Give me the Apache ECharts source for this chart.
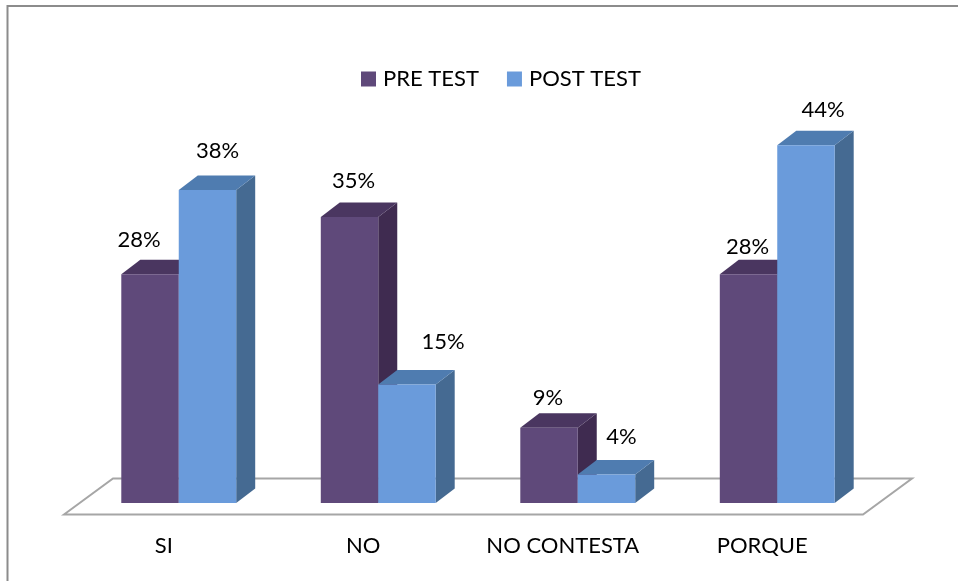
<!DOCTYPE html>
<html>
<head>
<meta charset="utf-8">
<title>Pre test / post test</title>
<style>
  html, body { margin: 0; padding: 0; background: #fff; }
  #chart { width: 958px; height: 581px; }
</style>
<script src="https://cdn.jsdelivr.net/npm/echarts@6/dist/echarts.min.js"></script>
</head>
<body>
<div id="chart"></div>
<script>
  var categories = ['SI', 'NO', 'NO CONTESTA', 'PORQUE'];
  var preTest = [28, 35, 9.2, 28];
  var postTest = [38.3, 14.5, 3.5, 43.8];

  // the labels in the original are placed by hand, not centred on the bars: [dx, dy]
  var preNudge = [[-11, -34], [4, -36], [-1, -30], [-1, -27]];
  var postNudge = [[10, -39], [36, -43], [15, -37], [17, -35]];

  var FONT = 'Lato';
  var FONT_SIZE = 22;
  var DX = 19, DY = 14.5;

  var chart = echarts.init(document.getElementById('chart'), null, {renderer: 'canvas'});

  // one 3d column: side, top, then front
  function bar3d(front, top, side, side_index, nudges) {
    return function (params, api) {
      var i = api.value(0);
      var p = api.coord([i, api.value(1)]);
      var base = api.coord([i, 0]);
      var band = api.size([1, 0])[0];
      var w = band * 0.288;
      var x0 = side_index === 0 ? p[0] - w : p[0];
      var x1 = x0 + w;
      var y = p[1], y0 = base[1];
      var n = nudges[i];
      return {
        type: 'group',
        children: [
          {type: 'polygon', shape: {points: [[x1, y], [x1 + DX, y - DY], [x1 + DX, y0 - DY], [x1, y0]]},
            style: {fill: side}},
          {type: 'polygon', shape: {points: [[x0, y], [x0 + DX, y - DY], [x1 + DX, y - DY], [x1, y]]},
            style: {fill: top}},
          {type: 'rect', shape: {x: x0, y: y, width: w, height: y0 - y},
            style: {fill: front}},
          {type: 'text', x: (x0 + x1) / 2 + n[0], y: y + n[1],
            style: {
              text: Math.round(api.value(1)) + '%',
              fill: '#000', font: FONT_SIZE + 'px ' + FONT,
              align: 'center', verticalAlign: 'middle'
            }}
        ]
      };
    };
  }

  chart.setOption({
    animation: false,
    backgroundColor: '#fff',
    textStyle: {fontFamily: FONT},
    grid: {left: 79, top: 94.5, width: 798, height: 408.5},
    legend: {
      left: 356, top: 63,
      itemWidth: 15, itemHeight: 15, itemGap: 28,
      icon: 'rect',
      textStyle: {fontFamily: FONT, fontSize: FONT_SIZE, color: '#000', padding: [0, 0, 0, 2]},
      data: [
        {name: 'PRE TEST', itemStyle: {color: '#5f497a'}},
        {name: 'POST TEST', itemStyle: {color: '#6a9bdb'}}
      ]
    },
    xAxis: {
      type: 'category',
      data: categories,
      axisLine: {show: false},
      axisTick: {show: false},
      axisLabel: {
        margin: 32,
        fontFamily: FONT, fontSize: FONT_SIZE, color: '#000',
        padding: [0, 30, 0, 0]
      }
    },
    yAxis: {type: 'value', min: 0, max: 50, show: false},
    graphic: [
      // page frame
      {type: 'polyline', z: 0, shape: {points: [[7.5, 581], [7.5, 6], [958, 6]]},
        style: {stroke: '#8c8c8c', lineWidth: 2, fill: null}},
      // floor of the 3d plot
      {type: 'polygon', z: 0, shape: {points: [[64, 514.5], [113, 478.5], [912, 478.5], [863, 514.5]]},
        style: {stroke: '#a6a6a6', lineWidth: 2, fill: '#fff'}}
    ],
    series: [
      {
        name: 'PRE TEST', type: 'custom',
        renderItem: bar3d('#5f497a', '#4a3660', '#3f2b50', 0, preNudge),
        encode: {x: 0, y: 1},
        itemStyle: {color: '#5f497a'},
        data: preTest.map(function (v, i) { return [i, v]; })
      },
      {
        name: 'POST TEST', type: 'custom',
        renderItem: bar3d('#6a9bdb', '#4f7cb0', '#456a92', 1, postNudge),
        encode: {x: 0, y: 1},
        itemStyle: {color: '#6a9bdb'},
        data: postTest.map(function (v, i) { return [i, v]; })
      }
    ]
  });
</script>
</body>
</html>
